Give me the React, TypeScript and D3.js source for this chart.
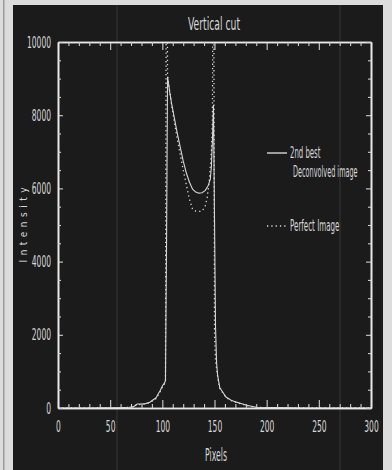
import { useRef, useEffect } from 'react'
import {
  select,
  scaleLinear,
  line,
  axisBottom,
  axisTop,
  axisLeft,
  axisRight,
  curveLinear,
} from 'd3'

// 2nd best deconvolved image (solid)
const bestPixels = [
  0, 30, 60, 68, 72, 76, 80, 84, 88, 91, 94, 96, 98, 100, 102, 103, 104, 105,
  107, 109, 111, 114, 117, 120, 123, 126, 129, 132, 135, 138, 141, 144, 146,
  147, 148, 149, 150, 151, 152, 153, 155, 158, 161, 166, 171, 177, 182, 190,
  240, 300,
]
const bestIntensity = [
  0, 0, 10, 20, 30, 110, 110, 120, 160, 220, 280, 380, 480, 600, 680, 750, 4400,
  9050, 8650, 8300, 8000, 7550, 7150, 6750, 6420, 6170, 5980, 5900, 5870, 5880,
  5940, 6080, 6250, 6600, 7300, 8280, 5200, 2200, 1230, 900, 560, 430, 300, 210,
  160, 110, 70, 20, 0, 0,
]

// perfect image (dotted)
const perfectPixels = [
  0, 60, 70, 76, 80, 84, 88, 91, 94, 96, 98, 100, 102, 103, 104, 105, 107, 109,
  111, 114, 117, 120, 123, 126, 129, 132, 135, 138, 141, 143, 145, 147, 148,
  149, 150, 151, 153, 155, 158, 161, 166, 171, 177, 182, 190, 240, 300,
]
const perfectIntensity = [
  0, 5, 20, 90, 100, 110, 150, 200, 260, 350, 450, 560, 650, 720, 16000, 9100,
  8650, 8250, 7900, 7400, 6950, 6500, 6100, 5700, 5430, 5380, 5370, 5380, 5500,
  5750, 6200, 7000, 7800, 16000, 2000, 1300, 850, 540, 410, 290, 200, 150, 100,
  60, 15, 0, 0,
]

const xMajor = [0, 50, 100, 150, 200, 250, 300]
const xMinor = [
  10, 20, 30, 40, 60, 70, 80, 90, 110, 120, 130, 140, 160, 170, 180, 190, 210,
  220, 230, 240, 260, 270, 280, 290,
]
const yMajor = [0, 2000, 4000, 6000, 8000, 10000]
const yMinor = [
  500, 1000, 1500, 2500, 3000, 3500, 4500, 5000, 5500, 6500, 7000, 7500, 8500,
  9000, 9500,
]

const legendItems = [
  { label: ['2nd best', 'Deconvolved image'], dash: null },
  { label: ['Perfect Image'], dash: '1.3,3' },
]

const FONT = "'DejaVu Sans Condensed', 'DejaVu Sans', sans-serif"
const INK = '#d6d6d6'
const BG = '#1b1b1b'

const App = () => {
  const svgRef = useRef(null)

  useEffect(() => {
    const svg = select(svgRef.current)
    svg.selectAll('*').remove()

    const width = 392
    const height = 470
    const margin = { top: 42, right: 21, bottom: 62, left: 58 }
    const innerWidth = width - margin.left - margin.right
    const innerHeight = height - margin.top - margin.bottom

    // scanned page: light border, dark plot sheet
    svg.append('rect').attr('width', width).attr('height', height).attr('fill', '#dcdcdc')
    svg.append('rect').attr('x', 3).attr('width', 1.5).attr('height', height).attr('fill', '#9a9a9a')
    svg
      .append('rect')
      .attr('x', 13)
      .attr('y', 5)
      .attr('width', 370)
      .attr('height', height - 5)
      .attr('fill', BG)
    // faint scanner streaks
    ;[117, 340].forEach((sx) =>
      svg
        .append('line')
        .attr('x1', sx)
        .attr('x2', sx)
        .attr('y1', 5)
        .attr('y2', height)
        .attr('stroke', '#363636')
        .attr('stroke-width', 1)
    )

    const g = svg
      .append('g')
      .attr('transform', `translate(${margin.left} ${margin.top})`)

    const xScale = scaleLinear().domain([0, 300]).range([0, innerWidth])
    const yScale = scaleLinear().domain([0, 10000]).range([innerHeight, 0])

    g.append('clipPath')
      .attr('id', 'plot-clip')
      .append('rect')
      .attr('width', innerWidth)
      .attr('height', innerHeight)

    const lineGen = line()
      .x((d) => xScale(d[0]))
      .y((d) => yScale(d[1]))
      .curve(curveLinear)

    const bestData = bestPixels.map((p, i) => [p, bestIntensity[i]])
    const perfectData = perfectPixels.map((p, i) => [p, perfectIntensity[i]])

    const plot = g.append('g').attr('clip-path', 'url(#plot-clip)')
    plot
      .append('path')
      .attr('d', lineGen(perfectData))
      .attr('fill', 'none')
      .attr('stroke', INK)
      .attr('stroke-width', 1.3)
      .attr('stroke-dasharray', '1.3,3')
    plot
      .append('path')
      .attr('d', lineGen(bestData))
      .attr('fill', 'none')
      .attr('stroke', INK)
      .attr('stroke-width', 1.1)

    const plain = (d) => String(d)

    // axes, ticks inward like IDL
    const bottom = g.append('g').attr('transform', `translate(0, ${innerHeight})`)
    bottom.call(axisBottom(xScale).tickValues(xMajor).tickSize(-8).tickSizeOuter(0).tickPadding(13).tickFormat(plain))
    bottom.append('g').call(axisBottom(xScale).tickValues(xMinor).tickSize(-4).tickSizeOuter(0).tickFormat(() => ''))
    const top = g.append('g')
    top.call(axisTop(xScale).tickValues(xMajor).tickSize(-8).tickSizeOuter(0).tickFormat(() => ''))
    top.append('g').call(axisTop(xScale).tickValues(xMinor).tickSize(-4).tickSizeOuter(0).tickFormat(() => ''))

    const left = g.append('g')
    left.call(axisLeft(yScale).tickValues(yMajor).tickSize(-5).tickSizeOuter(0).tickPadding(7).tickFormat(plain))
    left.append('g').call(axisLeft(yScale).tickValues(yMinor).tickSize(-3).tickSizeOuter(0).tickFormat(() => ''))
    const right = g.append('g').attr('transform', `translate(${innerWidth}, 0)`)
    right.call(axisRight(yScale).tickValues(yMajor).tickSize(-5).tickSizeOuter(0).tickFormat(() => ''))
    right.append('g').call(axisRight(yScale).tickValues(yMinor).tickSize(-3).tickSizeOuter(0).tickFormat(() => ''))

    g.selectAll('.domain').attr('stroke', '#e8e8e8').attr('stroke-width', 1.6)
    g.selectAll('.tick line').attr('stroke', '#d0d0d0').attr('stroke-width', 1.1)
    g.selectAll('.tick text')
      .attr('fill', INK)
      .attr('font-family', FONT)
      .attr('font-size', 16)
      .attr('lengthAdjust', 'spacingAndGlyphs')
      .each(function () {
        const t = select(this)
        const s = t.text()
        if (s) t.attr('textLength', s.length * 4.8)
      })

    // title and axis titles
    svg
      .append('text')
      .text('Vertical cut')
      .attr('x', 214)
      .attr('y', 30)
      .attr('text-anchor', 'middle')
      .attr('fill', INK)
      .attr('font-family', FONT)
      .attr('font-size', 17)
      .attr('textLength', 52)
      .attr('lengthAdjust', 'spacingAndGlyphs')

    svg
      .append('text')
      .text('Pixels')
      .attr('x', 216)
      .attr('y', 461)
      .attr('text-anchor', 'middle')
      .attr('fill', INK)
      .attr('font-family', FONT)
      .attr('font-size', 17)
      .attr('textLength', 22)
      .attr('lengthAdjust', 'spacingAndGlyphs')

    svg
      .append('text')
      .text('Intensity')
      .attr('transform', 'translate(27, 225) rotate(-90)')
      .attr('text-anchor', 'middle')
      .attr('fill', INK)
      .attr('font-family', FONT)
      .attr('font-size', 10)
      .attr('textLength', 75)
      .attr('lengthAdjust', 'spacing')

    // legend
    const legendRows = [153, 226]
    legendItems.forEach((item, i) => {
      const ly = legendRows[i]
      svg
        .append('line')
        .attr('x1', 267)
        .attr('x2', 287)
        .attr('y1', ly)
        .attr('y2', ly)
        .attr('stroke', INK)
        .attr('stroke-width', item.dash ? 1.3 : 1.4)
        .attr('stroke-dasharray', item.dash)
      item.label.forEach((txt, j) => {
        svg
          .append('text')
          .text(txt)
          .attr('x', j === 0 ? 290 : 293)
          .attr('y', ly + 5 + j * 19)
          .attr('fill', INK)
          .attr('font-family', FONT)
          .attr('font-size', 15)
          .attr('textLength', txt.length * 3.8)
          .attr('lengthAdjust', 'spacingAndGlyphs')
      })
    })
  }, [])

  return (
    <div>
      <svg
        ref={svgRef}
        width={392}
        height={470}
        style={{ position: 'absolute', left: 0, top: 0, display: 'block' }}
      ></svg>
    </div>
  )
}

export default App
